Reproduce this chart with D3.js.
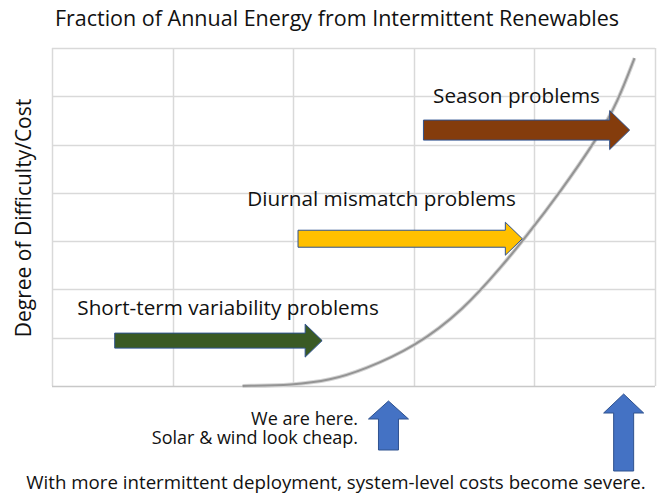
<!DOCTYPE html>
<html>
<head>
<meta charset="utf-8">
<script src="https://cdn.jsdelivr.net/npm/d3@7"></script>
<style>
  body { margin: 0; background: #fff; }
  svg text { font-family: "Open Sans", "Noto Sans", sans-serif; fill: #111; }
</style>
</head>
<body>
<svg id="chart" width="659" height="498"></svg>
<script>
// grid: 5 columns, 7 rows (no tick labels in the picture)
var colTicks = [0, 1, 2, 3, 4, 5];
var rowTicks = [0, 1, 2, 3, 4, 5, 6, 7];

// cost curve (column units, row units)
var curveX = [1.58, 2.0, 2.31, 2.58, 3.01, 3.41, 3.74, 3.92, 4.21, 4.53, 4.69, 4.83];
var curveY = [0, 0.02, 0.12, 0.33, 0.81, 1.57, 2.51, 3.06, 4.0, 5.16, 5.88, 6.79];

// problem arrows
var arrowNames = ["Short-term variability problems", "Diurnal mismatch problems", "Season problems"];
var arrowStart = [0.52, 2.04, 3.08];
var arrowEnd = [2.24, 3.9, 4.79];
var arrowLevel = [0.94, 3.05, 5.3];
var labelX = [0.21, 1.62, 3.16];
var labelY = [1.47, 3.73, 5.86];

// "here" markers on the x axis
var markerX = [2.79, 4.74];

var arrowColors = ["#3a5a24", "#ffc000", "#843c0c"];
var arrowBody = [15, 17, 20];
var arrowHead = [[33, 17], [33, 17], [39, 20]];

var svg = d3.select("#chart"),
    margin = {top: 48, right: 4, bottom: 112, left: 52},
    width = +svg.attr("width") - margin.left - margin.right,
    height = +svg.attr("height") - margin.top - margin.bottom;

var x = d3.scaleLinear().domain([0, 5]).range([0, width]);
var y = d3.scaleLinear().domain([0, 7]).range([height, 0]);

var g = svg.append("g")
    .attr("transform", "translate(" + margin.left + "," + margin.top + ")");

// gridlines
g.selectAll(".vgrid").data(colTicks).enter().append("line")
    .attr("class", "vgrid")
    .attr("x1", function(d) { return Math.round(x(d)) + 0.5; })
    .attr("x2", function(d) { return Math.round(x(d)) + 0.5; })
    .attr("y1", 0).attr("y2", height)
    .attr("stroke", "#d9d9d9").attr("stroke-width", 1.5);

g.selectAll(".hgrid").data(rowTicks).enter().append("line")
    .attr("class", "hgrid")
    .attr("y1", function(d) { return Math.round(y(d)) + 0.5; })
    .attr("y2", function(d) { return Math.round(y(d)) + 0.5; })
    .attr("x1", 0).attr("x2", width)
    .attr("stroke", function(d) { return d == 0 ? "#c8c8c8" : "#d9d9d9"; })
    .attr("stroke-width", 1.5);

// the curve
var line = d3.line()
    .x(function(d) { return x(d[0]); })
    .y(function(d) { return y(d[1]); })
    .curve(d3.curveBasis);

var pts = curveX.map(function(v, i) { return [v, curveY[i]]; });

g.append("path")
    .datum(pts)
    .attr("d", line)
    .attr("fill", "none")
    .attr("stroke", "#d4d4d4")
    .attr("stroke-width", 4);
g.append("path")
    .datum(pts)
    .attr("d", line)
    .attr("fill", "none")
    .attr("stroke", "#949494")
    .attr("stroke-width", 2);

// horizontal block arrows
function hArrow(x0, x1, yc, bh, hh, hl) {
    var xb = x1 - hl;
    return "M" + x0 + "," + (yc - bh / 2) +
        "L" + xb + "," + (yc - bh / 2) +
        "L" + xb + "," + (yc - hh / 2) +
        "L" + x1 + "," + yc +
        "L" + xb + "," + (yc + hh / 2) +
        "L" + xb + "," + (yc + bh / 2) +
        "L" + x0 + "," + (yc + bh / 2) + "Z";
}

arrowNames.forEach(function(name, i) {
    g.append("path")
        .attr("d", hArrow(x(arrowStart[i]), x(arrowEnd[i]), y(arrowLevel[i]),
            arrowBody[i], arrowHead[i][0], arrowHead[i][1]))
        .attr("fill", arrowColors[i])
        .attr("stroke", "#2f528f")
        .attr("stroke-width", 1);

    g.append("text")
        .attr("x", x(labelX[i]))
        .attr("y", y(labelY[i]))
        .style("font-size", "20.7px")
        .text(name);
});

// up arrows under the axis
var upArrow = [{tip: 401, base: 419, bottom: 450}, {tip: 394, base: 413, bottom: 471}];
markerX.forEach(function(v, i) {
    var cx = margin.left + x(v), a = upArrow[i];
    svg.append("path")
        .attr("d", "M" + (cx - 10) + "," + a.bottom + "L" + (cx - 10) + "," + a.base +
            "L" + (cx - 20) + "," + a.base + "L" + cx + "," + a.tip +
            "L" + (cx + 20) + "," + a.base + "L" + (cx + 10) + "," + a.base +
            "L" + (cx + 10) + "," + a.bottom + "Z")
        .attr("fill", "#4472c4")
        .attr("stroke", "#2f528f")
        .attr("stroke-width", 1);
});

// title
svg.append("text")
    .attr("x", 337).attr("y", 26)
    .attr("text-anchor", "middle")
    .style("font-size", "21.5px")
    .text("Fraction of Annual Energy from Intermittent Renewables");

// y label
svg.append("text")
    .attr("transform", "translate(31,218) rotate(-90)")
    .attr("text-anchor", "middle")
    .style("font-size", "21px")
    .text("Degree of Difficulty/Cost");

// notes
svg.append("text")
    .attr("x", 358).attr("y", 425)
    .attr("text-anchor", "end")
    .style("font-size", "18px")
    .text("We are here.");
svg.append("text")
    .attr("x", 358).attr("y", 444)
    .attr("text-anchor", "end")
    .style("font-size", "18px")
    .text("Solar & wind look cheap.");
svg.append("text")
    .attr("x", 336).attr("y", 489)
    .attr("text-anchor", "middle")
    .style("font-size", "18.7px")
    .text("With more intermittent deployment, system-level costs become severe.");
</script>
</body>
</html>
